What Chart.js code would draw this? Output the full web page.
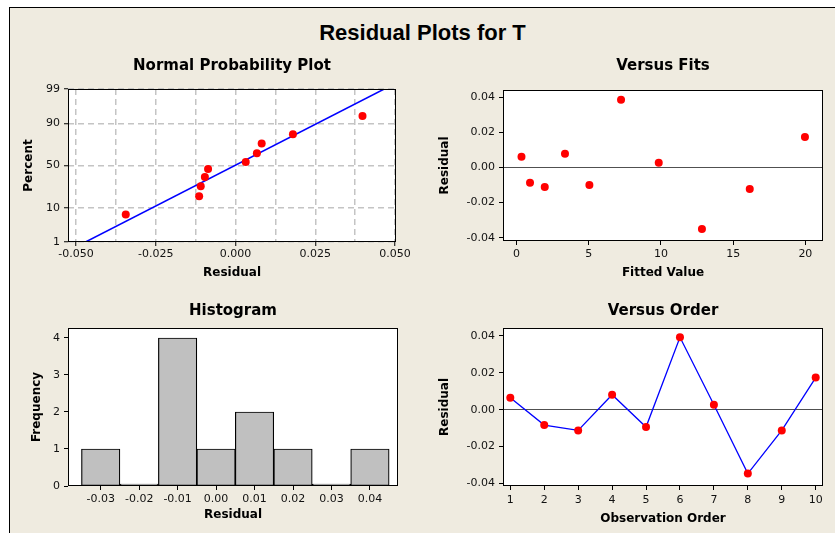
<!DOCTYPE html>
<html>
<head>
<meta charset="utf-8">
<script src="https://cdn.jsdelivr.net/npm/chart.js@4.4.1/dist/chart.umd.min.js"></script>
<style>
  html, body { margin: 0; padding: 0; background: #fff; }
  body { width: 835px; height: 533px; overflow: hidden; position: relative; }
  #frame { position: absolute; left: 9px; top: 7px; width: 840px; height: 540px; border: 1px solid #000; background: #EFEBE0; box-sizing: border-box; }
  #main-title { position: absolute; left: 0; top: 20px; width: 845px; text-align: center; line-height: 24px;
    font: bold 22px "Liberation Sans", Arial, sans-serif; color: #000; }
  canvas { position: absolute; }
</style>
</head>
<body>
<div id="frame"></div>
<div id="main-title">Residual Plots for T</div>
<canvas id="c-normal" width="406" height="232" style="left:12px;top:50px;"></canvas>
<canvas id="c-fits" width="408" height="232" style="left:425px;top:50px;"></canvas>
<canvas id="c-hist" width="396" height="229" style="left:12px;top:295px;"></canvas>
<canvas id="c-order" width="408" height="233" style="left:425px;top:295px;"></canvas>
<script>
// ---- data ----
// normal probability plot (sorted residuals vs plotting percent)
const normResiduals = [-0.0344, -0.0114, -0.0109, -0.0096, -0.0086, 0.0032, 0.0067, 0.0082, 0.0180, 0.0398];
const normPercents = [6.8, 17.5, 26.4, 36.2, 45.9, 54.1, 64.6, 74.8, 82.9, 93.4];
const fitLineX = [-0.0470, 0.0466];
const fitLinePct = [1, 99];
const normGridX = [-0.05, -0.0375, -0.025, -0.0125, 0, 0.0125, 0.025, 0.0375, 0.05];
const normTicksX = [-0.05, -0.025, 0, 0.025, 0.05];
const normTickLabelsX = ['-0.050', '-0.025', '0.000', '0.025', '0.050'];
const pctTicks = [1, 10, 50, 90, 99];

// versus fits
const fittedValues = [0.35, 0.94, 1.96, 3.36, 5.05, 7.24, 9.85, 12.84, 16.15, 19.97];
const fitsResiduals = [0.0061, -0.0087, -0.0111, 0.0078, -0.0100, 0.0386, 0.0027, -0.0350, -0.0123, 0.0174];
const fitsTicksX = [0, 5, 10, 15, 20];

// histogram
const histBins = [-0.03, -0.02, -0.01, 0.00, 0.01, 0.02, 0.03, 0.04];
const histLabels = ['-0.03', '-0.02', '-0.01', '0.00', '0.01', '0.02', '0.03', '0.04'];
const histCounts = [1, 0, 4, 1, 2, 1, 0, 1];
const freqTicks = [0, 1, 2, 3, 4];

// versus order
const obsOrder = [1, 2, 3, 4, 5, 6, 7, 8, 9, 10];
const orderResiduals = [0.0065, -0.0083, -0.0112, 0.0081, -0.0094, 0.0392, 0.0027, -0.0346, -0.0112, 0.0174];

const residTicks = [-0.04, -0.02, 0, 0.02, 0.04];
const residTickLabels = ['-0.04', '-0.02', '0.00', '0.02', '0.04'];

// inverse normal cdf (Acklam), used for the probability axis
function probit(p) {
  const a = [-3.969683028665376e+01, 2.209460984245205e+02, -2.759285104469687e+02, 1.383577518672690e+02, -3.066479806614716e+01, 2.506628277459239e+00];
  const b = [-5.447609879822406e+01, 1.615858368580409e+02, -1.556989798598866e+02, 6.680131188771972e+01, -1.328068155288572e+01];
  const c = [-7.784894002430293e-03, -3.223964580411365e-01, -2.400758277161838e+00, -2.549671010115263e+00, 4.374664141464968e+00, 2.938163982698783e+00];
  const d = [7.784695709041462e-03, 3.224671290700398e-01, 2.445134137142996e+00, 3.754408661907416e+00];
  const pl = 0.02425;
  let q, r;
  if (p < pl) {
    q = Math.sqrt(-2 * Math.log(p));
    return (((((c[0]*q+c[1])*q+c[2])*q+c[3])*q+c[4])*q+c[5]) / ((((d[0]*q+d[1])*q+d[2])*q+d[3])*q+1);
  }
  if (p > 1 - pl) {
    q = Math.sqrt(-2 * Math.log(1 - p));
    return -(((((c[0]*q+c[1])*q+c[2])*q+c[3])*q+c[4])*q+c[5]) / ((((d[0]*q+d[1])*q+d[2])*q+d[3])*q+1);
  }
  q = p - 0.5; r = q * q;
  return (((((a[0]*r+a[1])*r+a[2])*r+a[3])*r+a[4])*r+a[5])*q / (((((b[0]*r+b[1])*r+b[2])*r+b[3])*r+b[4])*r+1);
}

Chart.defaults.font.family = '"DejaVu Sans", Verdana, sans-serif';
Chart.defaults.color = '#111';

const RED = '#FF0000';
const BLUE = '#0000FF';
const tickFont = { size: 11 };
const axisTitleFont = { size: 12, weight: 'bold' };

// white plot area + black box round it
const plotFrame = {
  id: 'plotFrame',
  beforeDraw(chart) {
    const { ctx, chartArea: a } = chart;
    ctx.save();
    ctx.fillStyle = '#fff';
    ctx.fillRect(a.left, a.top, a.right - a.left, a.bottom - a.top);
    ctx.restore();
  },
  afterDraw(chart) {
    const { ctx, chartArea: a } = chart;
    ctx.save();
    ctx.strokeStyle = '#000';
    ctx.lineWidth = 1;
    ctx.strokeRect(Math.round(a.left) + 0.5, Math.round(a.top) + 0.5, Math.round(a.right - a.left) - 1, Math.round(a.bottom - a.top) - 1);
    ctx.restore();
  },
};

function panelTitle(text, padTop, padBottom) {
  return {
    display: true, text, fullSize: false, color: '#000',
    font: { size: 15, weight: 'bold' },
    padding: { top: padTop, bottom: padBottom },
  };
}

function baseOptions(title, padRight) {
  return {
    responsive: false,
    animation: false,
    events: [],
    layout: { padding: { left: 0, top: 0, right: padRight, bottom: 0 } },
    plugins: { legend: { display: false }, tooltip: { enabled: false }, title },
  };
}

function residualYAxis(min, max, titlePad) {
  return {
    type: 'linear', min, max,
    afterBuildTicks: (s) => { s.ticks = residTicks.map((v) => ({ value: v })); },
    afterFit: (s) => { s.width = 78; },
    ticks: { callback: (v, i) => residTickLabels[i], font: tickFont, padding: 4 },
    grid: {
      color: (c) => (c.tick && Math.abs(c.tick.value) < 1e-9 ? '#505050' : 'rgba(0,0,0,0)'),
      tickColor: '#000', tickLength: 4, lineWidth: 1,
    },
    border: { display: false },
    title: { display: true, text: 'Residual', font: axisTitleFont, color: '#000', padding: { top: titlePad, bottom: 0 } },
  };
}

// ---- Normal Probability Plot ----
new Chart(document.getElementById('c-normal'), {
  type: 'scatter',
  data: {
    datasets: [
      {
        data: normResiduals.map((x, i) => ({ x, y: probit(normPercents[i] / 100) })),
        backgroundColor: RED, borderWidth: 0, pointRadius: 4,
      },
      {
        type: 'line',
        data: fitLineX.map((x, i) => ({ x, y: probit(fitLinePct[i] / 100) })),
        borderColor: BLUE, borderWidth: 1.5, pointRadius: 0, showLine: true, fill: false,
      },
    ],
  },
  options: {
    ...baseOptions(panelTitle('Normal Probability Plot', 7, 14), 22),
    scales: {
      x: {
        type: 'linear', min: -0.0525, max: 0.0503,
        afterBuildTicks: (s) => { s.ticks = normGridX.map((v) => ({ value: v })); },
        afterFit: (s) => { s.height = 40; },
        ticks: {
          autoSkip: false, maxRotation: 0, font: tickFont, padding: 2,
          callback: (v) => {
            const k = normTicksX.findIndex((t) => Math.abs(t - v) < 1e-9);
            return k >= 0 ? normTickLabelsX[k] : '';
          },
        },
        grid: {
          color: '#C4C4C4', lineWidth: 1.5,
          tickColor: (c) => (c.tick && normTicksX.some((t) => Math.abs(t - c.tick.value) < 1e-9) ? '#000' : 'rgba(0,0,0,0)'),
          tickBorderDash: [], tickWidth: 1, tickLength: 4,
        },
        border: { display: false, dash: [6, 4] },
        title: { display: true, text: 'Residual', font: axisTitleFont, color: '#000', padding: { top: 0, bottom: 2 } },
      },
      y: {
        type: 'linear', min: probit(0.01), max: probit(0.99),
        afterBuildTicks: (s) => { s.ticks = pctTicks.map((p) => ({ value: probit(p / 100) })); },
        afterFit: (s) => { s.width = 56; },
        ticks: { callback: (v, i) => String(pctTicks[i]), font: tickFont, padding: 4 },
        grid: {
          color: '#C4C4C4', lineWidth: 1.5,
          tickColor: '#000', tickBorderDash: [], tickWidth: 1, tickLength: 4,
        },
        border: { display: false, dash: [6, 4] },
        title: { display: true, text: 'Percent', font: axisTitleFont, color: '#000', padding: { top: 10, bottom: 0 } },
      },
    },
  },
  plugins: [plotFrame],
});

// ---- Versus Fits ----
new Chart(document.getElementById('c-fits'), {
  type: 'scatter',
  data: {
    datasets: [{
      data: fittedValues.map((x, i) => ({ x, y: fitsResiduals[i] })),
      backgroundColor: RED, borderWidth: 0, pointRadius: 4,
    }],
  },
  options: {
    ...baseOptions(panelTitle('Versus Fits', 7, 15), 10),
    scales: {
      x: {
        type: 'linear', min: -0.93, max: 21.22,
        afterBuildTicks: (s) => { s.ticks = fitsTicksX.map((v) => ({ value: v })); },
        afterFit: (s) => { s.height = 41; },
        ticks: { autoSkip: false, maxRotation: 0, font: tickFont, padding: 3, callback: (v) => String(v) },
        grid: { drawOnChartArea: false, tickColor: '#000', tickLength: 4 },
        border: { display: false },
        title: { display: true, text: 'Fitted Value', font: axisTitleFont, color: '#000', padding: { top: 0, bottom: 2 } },
      },
      y: residualYAxis(-0.0419, 0.0441, 13),
    },
  },
  plugins: [plotFrame],
});

// ---- Histogram ----
new Chart(document.getElementById('c-hist'), {
  type: 'bar',
  data: {
    datasets: [{
      data: histBins.map((x, i) => ({ x, y: histCounts[i] })),
      backgroundColor: '#C0C0C0', borderColor: '#000', borderWidth: 1.2,
      borderSkipped: false, minBarLength: 2,
      barPercentage: 1, categoryPercentage: 1,
    }],
  },
  options: {
    ...baseOptions(panelTitle('Histogram', 7, 8), 10),
    scales: {
      x: {
        type: 'linear', min: -0.0385, max: 0.0473, offset: false,
        afterBuildTicks: (s) => { s.ticks = histBins.map((v) => ({ value: v })); },
        afterFit: (s) => { s.height = 38; },
        ticks: { autoSkip: false, maxRotation: 0, font: tickFont, padding: 3, callback: (v, i) => histLabels[i] },
        grid: { drawOnChartArea: false, tickColor: '#000', tickLength: 4, offset: false },
        border: { display: false },
        title: { display: true, text: 'Residual', font: axisTitleFont, color: '#000', padding: { top: 0, bottom: 2 } },
      },
      y: {
        type: 'linear', min: 0, max: 4.27,
        afterBuildTicks: (s) => { s.ticks = freqTicks.map((v) => ({ value: v })); },
        afterFit: (s) => { s.width = 56; },
        ticks: { callback: (v) => String(v), font: tickFont, padding: 4 },
        grid: { drawOnChartArea: false, tickColor: '#000', tickLength: 4 },
        border: { display: false },
        title: { display: true, text: 'Frequency', font: axisTitleFont, color: '#000', padding: { top: 18, bottom: 0 } },
      },
    },
  },
  plugins: [plotFrame],
});

// ---- Versus Order ----
new Chart(document.getElementById('c-order'), {
  type: 'line',
  data: {
    datasets: [{
      data: obsOrder.map((x, i) => ({ x, y: orderResiduals[i] })),
      borderColor: BLUE, borderWidth: 1.3, tension: 0,
      pointBackgroundColor: RED, pointBorderWidth: 0, pointRadius: 4,
    }],
  },
  options: {
    ...baseOptions(panelTitle('Versus Order', 7, 8), 10),
    scales: {
      x: {
        type: 'linear', min: 0.785, max: 10.215,
        afterBuildTicks: (s) => { s.ticks = obsOrder.map((v) => ({ value: v })); },
        afterFit: (s) => { s.height = 42; },
        ticks: { autoSkip: false, maxRotation: 0, font: tickFont, padding: 4, callback: (v) => String(v) },
        grid: { drawOnChartArea: false, tickColor: '#000', tickLength: 4 },
        border: { display: false },
        title: { display: true, text: 'Observation Order', font: axisTitleFont, color: '#000', padding: { top: 0, bottom: 2 } },
      },
      y: residualYAxis(-0.0413, 0.0442, 13),
    },
  },
  plugins: [plotFrame],
});
</script>
</body>
</html>
